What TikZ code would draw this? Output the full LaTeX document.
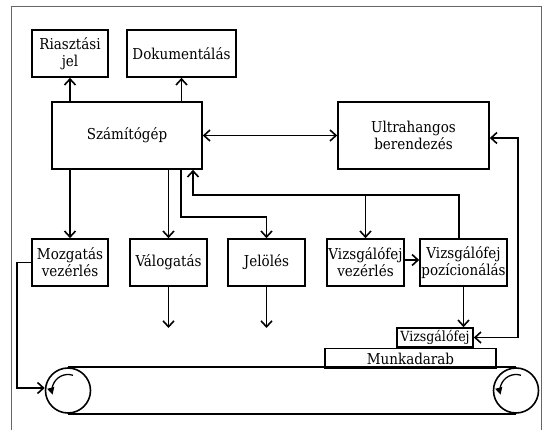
\documentclass[tikz,border=0pt]{standalone}
\usepackage{fontspec}
\setmainfont{DejaVu Serif Condensed}
\usepackage{tikz}
\usetikzlibrary{arrows.meta,positioning,calc}
\tikzset{
    block/.style={draw, line width=1.6pt, inner sep=0pt, align=center, font=\fontsize{15}{17}\selectfont},
    flow/.style={-{Straight Barb[length=6pt, width=11pt]}, line width=1.6pt},
    biflow/.style={{Straight Barb[length=6pt, width=11pt]}-{Straight Barb[length=6pt, width=11pt]}, line width=1.6pt},
    roller/.style={draw, circle, line width=1.6pt, minimum size=45pt, inner sep=0pt},
    turn/.style={-{Triangle[length=7pt, width=7pt]}, line width=1.3pt}
}

\begin{document}
\begin{tikzpicture}[x=1pt, y=-1pt]
                    \useasboundingbox (0,0) rectangle (546,430);
                    \draw[black!60, line width=1pt] (11,432) -- (11,7) -- (541,7) -- (541,432);

                    \node[block, minimum width=76pt, minimum height=47pt] (riaszt) at (70,53.5) {Riasztási\\jel};
                    \node[block, minimum width=109pt, minimum height=47pt] (dokum) at (181.5,53.5) {Dokumentálás};
                    \node[block, minimum width=150pt, minimum height=67pt] (gep) at (127,135.5) {Számítógép};
                    \node[block, minimum width=151pt, minimum height=67pt] (ultra) at (413.5,135.5) {Ultrahangos\\berendezés};

                    \node[block, minimum width=76pt, minimum height=47pt] (mozgat) at (70,262.5) {Mozgatás\\vezérlés};
                    \node[block, minimum width=77pt, minimum height=47pt] (valog) at (168.5,262.5) {Válogatás};
                    \node[block, minimum width=77pt, minimum height=47pt] (jelol) at (266.5,262.5) {Jelölés};
                    \node[block, minimum width=77pt, minimum height=47pt] (fejvez) at (365.5,262.5) {Vizsgálófej\\vezérlés};
                    \node[block, minimum width=87pt, minimum height=47pt] (fejpoz) at (463.5,262.5) {Vizsgálófej\\pozícionálás};

                    \node[block, minimum width=76pt, minimum height=19pt, font=\fontsize{14}{16}\selectfont] (fej) at (435,337.5) {Vizsgálófej};
                    \node[block, minimum width=171pt, minimum height=20pt, below=0pt of fej.south east, anchor=north east, xshift=23pt] (munka) {Munkadarab};

                    \node[roller] (lhenger) at (68,390.5) {};
                    \node[roller] (rhenger) at (516,390.5) {};
                    \draw[line width=1.6pt] (lhenger.north) -- (rhenger.north);
                    \draw[line width=1.6pt] (lhenger.south) -- (rhenger.south);
                    \draw[turn] ([shift={(-72:16)}]lhenger.center) arc[start angle=-72, end angle=-195, radius=16];
                    \draw[turn] ([shift={(-72:16)}]rhenger.center) arc[start angle=-72, end angle=-195, radius=16];

                    \draw[flow] (gep.north -| riaszt) -- (riaszt.south);
                    \draw[flow] (gep.north -| dokum) -- (dokum.south);
                    \draw[biflow] (gep) -- (ultra);
                    \draw[flow] (gep.south -| mozgat) -- (mozgat.north);
                    \draw[flow] (gep.south -| valog) -- (valog.north);
                    \draw[flow] (gep.south -| 181,0) |- (jelol.north |- 0,217) -- (jelol.north);
                    \draw[flow] (fejpoz.north -| 459,0) |- (193,195) -- (gep.south -| 193,0);
                    \draw[flow] (fejvez.north |- 0,195) -- (fejvez.north);
                    \draw[flow] (fejvez.east |- 0,260) -- (fejpoz.west |- 0,260);
                    \draw[flow] (fejpoz.south) -- (fejpoz.south |- fej.north);
                    \draw[biflow] (fej.east) -| (518,138) -- (ultra.east |- 0,138);

                    \coordinate (valogki) at (valog.south |- 0,328);
                    \coordinate (jelolki) at (jelol.south |- 0,328);
                    \draw[flow] (valog.south) -- (valogki);
                    \draw[flow] (jelol.south) -- (jelolki);
                    \draw[flow] (mozgat.west) -| (17,388) -- (lhenger.west |- 0,388);
                \end{tikzpicture}
\end{document}
